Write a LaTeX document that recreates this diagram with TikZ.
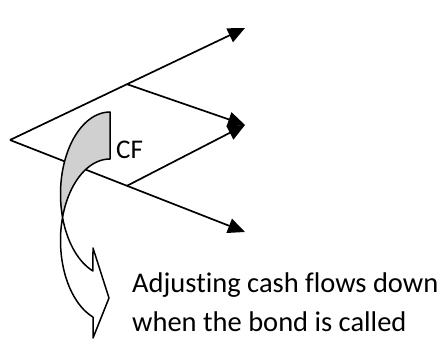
\documentclass[tikz,border=0pt]{standalone}
\usepackage{fontspec}
\setmainfont[Ligatures=NoCommon]{Carlito}
\usetikzlibrary{arrows.meta}
\definecolor{bandgray}{RGB}{208,208,208}
\begin{document}
\begin{tikzpicture}[x=1pt,y=-1pt,
  branch/.style={line width=1.7pt},
  arrowbranch/.style={branch,-{Triangle[length=17pt,width=15pt]}},
  band/.style={draw=black,line width=1.5pt,line join=round},
  lbl/.style={inner sep=0pt,anchor=base west,font=\fontsize{28.5}{34}\selectfont}]
\useasboundingbox (0,0) rectangle (446,339);
% tree
\coordinate (root) at (10,140);
\coordinate (j1) at (127,84.2);
\coordinate (j2) at (127,185.8);
\coordinate (t1) at (245,28);
\coordinate (t2) at (245,125);
\coordinate (t3) at (245,232);
\draw[branch] (root) -- (j1);
\draw[branch] (root) -- (j2);
\draw[arrowbranch] (j1) -- (t1);
\draw[arrowbranch] (j1) -- (t2);
\draw[arrowbranch] (j2) -- (t2);
\draw[arrowbranch] (j2) -- (t3);
% curved arrow: gray back part
\filldraw[band,fill=bandgray] plot[smooth,domain=270:163.7,samples=40] ({110+49.5*cos(\x)},{194+82*sin(\x)})
  -- plot[smooth,domain=196.8:270,samples=40] ({110+49.5*cos(\x)},{240.5+81.5*sin(\x)}) -- cycle;
% curved arrow: white front part with head
\filldraw[band,fill=white] plot[smooth,domain=163.7:110.1,samples=40] ({110+49.5*cos(\x)},{194+82*sin(\x)})
  -- (93,248) -- (109,298) -- (93,338) -- (93,317)
  -- plot[smooth,domain=110.1:196.8,samples=40] ({110+49.5*cos(\x)},{240.5+81.5*sin(\x)}) -- cycle;
% labels
\node[lbl,font=\fontsize{27}{32}\selectfont] (cf) at (116,158) {CF};
\node[lbl] (adj1) at (132,292) {Adjusting cash flows down};
\node[lbl] (adj2) at (132,331) {when the bond is called};
\end{tikzpicture}
\end{document}
